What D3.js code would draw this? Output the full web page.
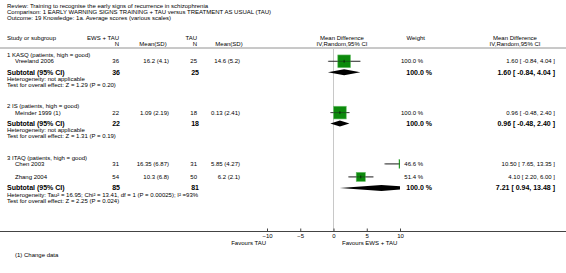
<!DOCTYPE html>
<html>
<head>
<meta charset="utf-8">
<script src="https://cdn.jsdelivr.net/npm/d3@7"></script>
<style>
  body { margin: 0; background: #fff; }
  svg { display: block; font-family: "Liberation Sans", Arial, sans-serif; }
</style>
</head>
<body>
<div id="chart"></div>
<script>
// ---- data ----
const titleLines = [
  "Review:  Training to recognise the early signs of recurrence in schizophrenia",
  "Comparison:  1 EARLY WARNING SIGNS TRAINING + TAU versus TREATMENT AS USUAL (TAU)",
  "Outcome:  19 Knowledge: 1a. Average scores (various scales)"
];
const groupNames = ["1 KASQ (patients, high = good)", "2 IS (patients, high = good)", "3 ITAQ (patients, high = good)"];
const studyNames = ["Vreeland 2006", "Meinder 1999 (1)", "Chen 2003", "Zhang 2004"];
const studyGroup = [0, 1, 2, 2];
const ewsN = [36, 22, 31, 54];
const ewsMean = [16.2, 1.09, 16.35, 10.3];
const ewsSD = [4.1, 2.19, 6.87, 6.8];
const tauN = [25, 18, 31, 50];
const tauMean = [14.6, 0.13, 5.85, 6.2];
const tauSD = [5.2, 2.41, 4.27, 2.1];
const studyMD = [1.60, 0.96, 10.50, 4.10];
const studyLo = [-0.84, -0.48, 7.65, 2.20];
const studyHi = [4.04, 2.40, 13.35, 6.00];
const studyWeight = [100.0, 100.0, 46.6, 51.4];
const subEwsN = [36, 22, 85];
const subTauN = [25, 18, 81];
const subMD = [1.60, 0.96, 7.21];
const subLo = [-0.84, -0.48, 0.94];
const subHi = [4.04, 2.40, 13.48];
const heterogeneity = [
  "Heterogeneity: not applicable",
  "Heterogeneity: not applicable",
  "Heterogeneity: Tau\u00b2 = 16.95; Chi\u00b2 = 13.41, df = 1 (P = 0.00025); I\u00b2 =93%"
];
const overallTest = [
  "Test for overall effect: Z = 1.29 (P = 0.20)",
  "Test for overall effect: Z = 1.31 (P = 0.19)",
  "Test for overall effect: Z = 2.25 (P = 0.024)"
];
const axisTicks = [-10, -5, 0, 5, 10];
const favoursLeft = "Favours TAU";
const favoursRight = "Favours EWS + TAU";
const footnote = "(1) Change data";

// ---- layout ----
const width = 566, height = 273;
const small = 6, big = 7;

const svg = d3.select("#chart").append("svg")
  .attr("width", width)
  .attr("height", height);

const x = d3.scaleLinear().domain([-10, 10]).range([267, 400]);
const boxSize = d3.scaleSqrt().domain([0, 100]).range([0, 12.7]);
const axisY = 231.5, ruleY = 48;

function txt(str, tx, ty, anchor, size, bold) {
  return svg.append("text")
    .attr("x", tx).attr("y", ty).attr("dy", "0.35em")
    .attr("text-anchor", anchor || "start")
    .attr("font-size", size || small)
    .attr("font-weight", bold ? "bold" : "normal")
    .attr("fill", "#000")
    .text(str);
}
const ci = (m, l, h) => `${m.toFixed(2)} [ ${l.toFixed(2)}, ${h.toFixed(2)} ]`;

// title
titleLines.forEach((t, i) => txt(t, 7, 6.3 + i * 6));

// header
txt("Study or subgroup", 7, 38);
txt("EWS + TAU", 119, 38, "end");
txt("N", 119, 44, "end");
txt("Mean(SD)", 153, 44, "middle");
txt("TAU", 197, 38, "end");
txt("N", 197, 44, "end");
txt("Mean(SD)", 229, 44, "middle");
txt("Mean Difference", 342, 38, "middle");
txt("IV,Random,95% CI", 342, 44, "middle");
txt("Weight", 425, 38, "end");
txt("Mean Difference", 515, 38, "middle");
txt("IV,Random,95% CI", 515, 44, "middle");

svg.append("line")
  .attr("x1", 0).attr("x2", width).attr("y1", ruleY).attr("y2", ruleY)
  .attr("stroke", "#777").attr("stroke-width", 0.8);

// zero line
svg.append("line")
  .attr("x1", x(0)).attr("x2", x(0)).attr("y1", ruleY).attr("y2", axisY)
  .attr("stroke", "#c8c8c8").attr("stroke-width", 1);

svg.append("clipPath").attr("id", "plotClip")
  .append("rect").attr("x", x(-10)).attr("y", ruleY).attr("width", x(10) - x(-10)).attr("height", axisY - ruleY);
const plot = svg.append("g").attr("clip-path", "url(#plotClip)");

// rows
let cy = 55;
groupNames.forEach((g, gi) => {
  txt(g, 7, cy);
  cy += 6.3;
  const idx = studyGroup.map((s, i) => s === gi ? i : -1).filter(i => i >= 0);
  idx.forEach((i, k) => {
    if (k > 0) cy += 13;
    txt(studyNames[i], 15, cy);
    txt(ewsN[i], 119, cy, "end");
    txt(`${ewsMean[i]} (${ewsSD[i]})`, 169, cy, "end");
    txt(tauN[i], 197, cy, "end");
    txt(`${tauMean[i]} (${tauSD[i]})`, 240, cy, "end");
    txt(`${studyWeight[i].toFixed(1)} %`, 423, cy, "end");
    txt(ci(studyMD[i], studyLo[i], studyHi[i]), 555, cy, "end");

    const s = boxSize(studyWeight[i]);
    plot.append("line")
      .attr("x1", x(studyLo[i])).attr("x2", x(studyHi[i]))
      .attr("y1", cy).attr("y2", cy)
      .attr("stroke", "#333").attr("stroke-width", 0.8);
    plot.append("rect")
      .attr("x", x(studyMD[i]) - s / 2).attr("y", cy - s / 2)
      .attr("width", s).attr("height", s)
      .attr("fill", "#0c8a0c").attr("stroke", "#6cc06c").attr("stroke-width", 0.6);
    plot.append("line")
      .attr("x1", x(studyLo[i]) + 1).attr("x2", x(studyHi[i]))
      .attr("y1", cy).attr("y2", cy)
      .attr("stroke", "#222").attr("stroke-width", 0.5);
    plot.append("line")
      .attr("x1", x(studyMD[i])).attr("x2", x(studyMD[i]))
      .attr("y1", cy - 1.5).attr("y2", cy + 1.5)
      .attr("stroke", "#000").attr("stroke-width", 0.6);
  });

  cy += 11;
  txt("Subtotal (95% CI)", 7, cy, "start", big, true);
  txt(subEwsN[gi], 120, cy, "end", big, true);
  txt(subTauN[gi], 199, cy, "end", big, true);
  txt("100.0 %", 432, cy, "end", big, true);
  txt(ci(subMD[gi], subLo[gi], subHi[gi]), 555, cy, "end", big, true);
  plot.append("path")
    .attr("d", `M${x(subLo[gi])},${cy} L${x(subMD[gi])},${cy - 3} L${x(subHi[gi])},${cy} L${x(subMD[gi])},${cy + 3} Z`)
    .attr("fill", "#000");

  cy += 6.5;
  txt(heterogeneity[gi], 7, cy);
  cy += 6;
  txt(overallTest[gi], 7, cy);
  cy += 21.5;
});

// axis
svg.append("line")
  .attr("x1", 0).attr("x2", width).attr("y1", axisY).attr("y2", axisY)
  .attr("stroke", "#444").attr("stroke-width", 1);

const axis = svg.append("g")
  .attr("transform", `translate(0,${axisY})`)
  .call(d3.axisBottom(x).tickValues(axisTicks).tickSize(-3).tickPadding(2.2));
axis.select(".domain").remove();
axis.selectAll(".tick line").attr("stroke", "#444");
axis.selectAll(".tick text")
  .attr("font-size", small)
  .attr("font-family", "Liberation Sans, Arial, sans-serif")
  .attr("fill", "#000");

txt(favoursLeft, 266, 242.5, "end");
txt(favoursRight, 342, 242.5, "start");

txt(footnote, 15, 255);
</script>
</body>
</html>
